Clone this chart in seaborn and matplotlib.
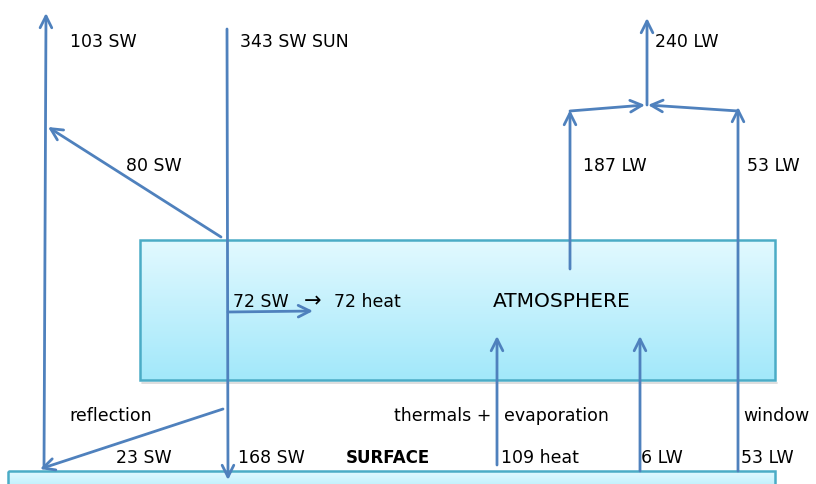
import numpy as np
import matplotlib
matplotlib.use("Agg")
import matplotlib.pyplot as plt
import seaborn as sns

# Energy flows (W/m2)
sw_sun = 343
sw_out = 103
sw_reflected_atm = 80
sw_absorbed_atm = 72
sw_surface = 168
sw_reflected_surf = 23
lw_out = 240
lw_atm = 187
lw_window = 53
lw_surface_atm = 6
heat_surface = 109

sns.set_theme(style="white")
plt.rcParams['font.family'] = ['DejaVu Sans']

ARROW = "#4f81bd"
EDGE = "#4bacc6"

fig = plt.figure(figsize=(8.16, 4.85), dpi=100)
ax = fig.add_axes([0, 0, 1, 1])
ax.set_xlim(0, 816)
ax.set_ylim(485, 0)
ax.axis("off")

# gradient boxes: atmosphere and surface
grad = np.linspace(0, 1, 256).reshape(-1, 1)
cmap = matplotlib.colors.LinearSegmentedColormap.from_list("sky", ["#e2f9ff", "#a2e8fa"])
ax.imshow(grad, cmap=cmap, aspect="auto", extent=(140, 775, 381, 241), zorder=1)
ax.add_patch(plt.Rectangle((140, 241), 635, 140, fill=False, ec=EDGE, lw=1.8, zorder=2))
ax.plot([142, 777], [384, 384], color="#d8d8d8", lw=1.2, zorder=0)
ax.imshow(grad, cmap=cmap, aspect="auto", extent=(8, 775, 500, 472), zorder=1)
ax.add_patch(plt.Rectangle((8, 472), 767, 30, fill=False, ec=EDGE, lw=1.8, zorder=2))


def arrow(start, end):
    ax.annotate("", xy=end, xytext=start, zorder=4,
                arrowprops=dict(arrowstyle="->,head_length=0.7,head_width=0.35",
                                color=ARROW, lw=2.0, shrinkA=0, shrinkB=0))


# shortwave
arrow((44, 468), (46, 14))                # 103 SW to space
arrow((221, 238), (48, 128))              # 80 SW reflected by atmosphere
arrow((227, 30), (228, 481))              # 343 SW sun
arrow((228, 313), (313, 312))             # 72 SW absorbed
arrow((223, 410), (40, 470))              # reflection at surface
# heat and longwave
arrow((497, 466), (497, 337))             # 109 heat
arrow((640, 472), (640, 337))             # 6 LW
arrow((738, 472), (738, 108))             # 53 LW window
arrow((570, 270), (570, 111))             # 187 LW
arrow((570, 112), (645, 106))
arrow((738, 112), (648, 106))
arrow((647, 106), (647, 19))              # 240 LW to space

fs = 12.5
texts = [
    (70, 42, f"{sw_out} SW"),
    (240, 42, f"{sw_sun} SW SUN"),
    (126, 166, f"{sw_reflected_atm} SW"),
    (655, 42, f"{lw_out} LW"),
    (583, 166, f"{lw_atm} LW"),
    (747, 166, f"{lw_window} LW"),
    (233, 302, f"{sw_absorbed_atm} SW"),
    (334, 302, f"{sw_absorbed_atm} heat"),
    (69, 416, "reflection"),
    (394, 416, "thermals +"),
    (504, 416, "evaporation"),
    (743, 416, "window"),
    (116, 458, f"{sw_reflected_surf} SW"),
    (238, 458, f"{sw_surface} SW"),
    (501, 458, f"{heat_surface} heat"),
    (641, 458, f"{lw_surface_atm} LW"),
    (741, 458, f"{lw_window} LW"),
]
for x, y, s in texts:
    ax.text(x, y, s, fontsize=fs, color="black", ha="left", va="center", zorder=5)
ax.text(304, 301, "\u2192", fontsize=15, color="black", ha="left", va="center", zorder=5)
ax.text(493, 302, "ATMOSPHERE", fontsize=14.5, color="black", ha="left", va="center", zorder=5)
ax.text(346, 458, "SURFACE", fontsize=12, color="black", fontweight="bold",
        ha="left", va="center", zorder=5)

fig.savefig("out.png", dpi=100)
